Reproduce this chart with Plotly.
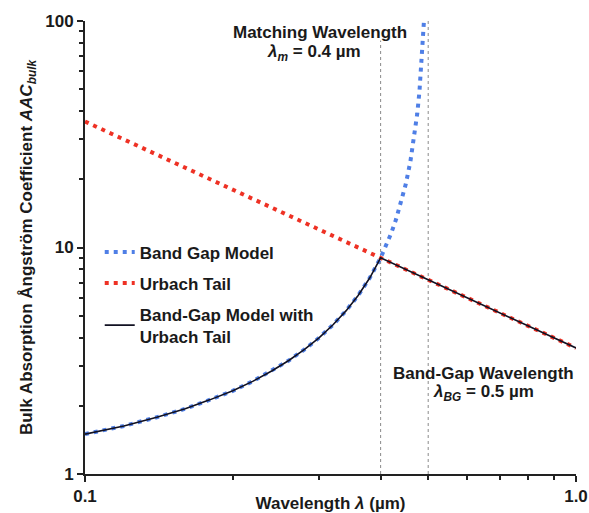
import math
import plotly.graph_objects as go

# Data
bg_wavelength = [0.1, 0.12, 0.14, 0.16, 0.18, 0.2, 0.22, 0.24, 0.26, 0.28, 0.3,
                 0.32, 0.34, 0.36, 0.38, 0.4, 0.41, 0.42, 0.43, 0.44, 0.45,
                 0.46, 0.47, 0.475, 0.48, 0.485, 0.49, 0.491]
bg_aac = [1.5, 1.63, 1.78, 1.94, 2.13, 2.33, 2.57, 2.85, 3.17, 3.55, 4.0,
          4.56, 5.25, 6.14, 7.33, 9.0, 10.1, 11.5, 13.3, 15.7, 19.0,
          24.0, 32.3, 39.0, 49.0, 65.7, 99.0, 110.0]

urbach_wavelength = [0.1, 0.2, 0.3, 0.4, 0.5, 0.6, 0.7, 0.8, 0.9, 1.0]
urbach_aac = [36.0, 18.0, 12.0, 9.0, 7.2, 6.0, 5.14, 4.5, 4.0, 3.6]

combined_wavelength = [0.1, 0.12, 0.14, 0.16, 0.18, 0.2, 0.22, 0.24, 0.26, 0.28, 0.3,
                       0.32, 0.34, 0.36, 0.38, 0.4, 0.5, 0.6, 0.7, 0.8, 0.9, 1.0]
combined_aac = [1.5, 1.63, 1.78, 1.94, 2.13, 2.33, 2.57, 2.85, 3.17, 3.55, 4.0,
                4.56, 5.25, 6.14, 7.33, 9.0, 7.2, 6.0, 5.14, 4.5, 4.0, 3.6]

lambda_m = 0.4
lambda_bg = 0.5

x_tickvals = [0.1, 1.0]
x_ticktext = ["<b>0.1</b>", "<b>1.0</b>"]
x_minor = [0.2, 0.3, 0.4, 0.5, 0.6, 0.7, 0.8, 0.9]
y_tickvals = [1, 10, 100]
y_ticktext = ["<b>1</b>", "<b>10</b>", "<b>100</b>"]
y_minor = [2, 3, 4, 5, 6, 7, 8, 9, 20, 30, 40, 50, 60, 70, 80, 90]

BLUE = "#4f7fe6"
RED = "#ee3124"
INK = "#1a1a1a"
FONT = "Liberation Sans, Arial, sans-serif"
FS = 17

fig = go.Figure()
fig.add_trace(go.Scatter(
    x=bg_wavelength, y=bg_aac, mode="lines", name="<b>Band Gap Model</b>",
    line=dict(color=BLUE, width=4, dash="4px,5px"), legendgroup="a"))
fig.add_trace(go.Scatter(
    x=urbach_wavelength, y=urbach_aac, mode="lines", name="<b>Urbach Tail</b>",
    line=dict(color=RED, width=4, dash="4px,5px"), legendgroup="b"))
fig.add_trace(go.Scatter(
    x=combined_wavelength, y=combined_aac, mode="lines",
    name="<b>Band-Gap Model with<br>Urbach Tail</b>",
    line=dict(color="#111122", width=1.6), legendgroup="c"))

for xv, ytop in [(lambda_m, 82), (lambda_bg, 100)]:
    fig.add_shape(type="line", xref="x", yref="y", x0=xv, x1=xv, y0=1, y1=ytop,
                  line=dict(color="#8a8a8a", width=1, dash="3px,3px"), layer="below")

def ann(x, y, text):
    # annotations on log axes are placed in log10 units
    fig.add_annotation(x=math.log10(x), y=math.log10(y), xref="x", yref="y",
                       xanchor="center", yanchor="middle", text=text, showarrow=False,
                       font=dict(size=FS, color=INK, family=FONT))

ann(0.301, 89.4, "<b>Matching Wavelength</b>")
ann(0.293, 72.2, "<b><i>λ</i><sub><i>m</i></sub> = 0.4 µm</b>")
ann(0.647, 2.79, "<b>Band-Gap Wavelength</b>")
ann(0.648, 2.28, "<b><i>λ</i><sub><i>BG</i></sub> = 0.5 µm</b>")

fig.update_layout(
    width=589, height=513,
    margin=dict(l=85, r=13, t=21, b=39),
    paper_bgcolor="white", plot_bgcolor="white",
    font=dict(family=FONT, size=FS, color=INK),
    showlegend=True,
    legend=dict(x=0.03, y=0.529, xanchor="left", yanchor="top",
                bgcolor="rgba(0,0,0,0)", font=dict(size=FS, family=FONT, color=INK),
                traceorder="grouped", tracegroupgap=6),
)
fig.update_xaxes(
    type="log", range=[-1, 0], automargin=False,
    tickmode="array", tickvals=x_tickvals, ticktext=x_ticktext,
    ticks="outside", ticklen=6, tickwidth=1.5, tickcolor="#222",
    tickfont=dict(size=FS, family=FONT, color=INK),
    showline=True, linecolor="#222", linewidth=2,
    showgrid=False, zeroline=False,
    minor=dict(tickmode="array", tickvals=x_minor, ticks="outside", ticklen=4,
               tickcolor="#222", tickwidth=1.5, showgrid=False),
    title=dict(text="<b>Wavelength <i>λ</i> (µm)</b>", font=dict(size=FS, family=FONT, color=INK), standoff=0),
)
fig.update_yaxes(
    type="log", range=[0, 2], automargin=False,
    tickmode="array", tickvals=y_tickvals, ticktext=y_ticktext,
    ticks="outside", ticklen=6, tickwidth=1.5, tickcolor="#222",
    tickfont=dict(size=FS, family=FONT, color=INK),
    showline=True, linecolor="#222", linewidth=2,
    showgrid=False, zeroline=False,
    minor=dict(tickmode="array", tickvals=y_minor, ticks="outside", ticklen=4,
               tickcolor="#222", tickwidth=1.5, showgrid=False),
    title=dict(text="<b>Bulk Absorption Ångström Coefficient <i>AAC</i><sub><i>bulk</i></sub></b>",
               font=dict(size=FS, family=FONT, color=INK), standoff=8),
)

fig.write_html("out.html")
